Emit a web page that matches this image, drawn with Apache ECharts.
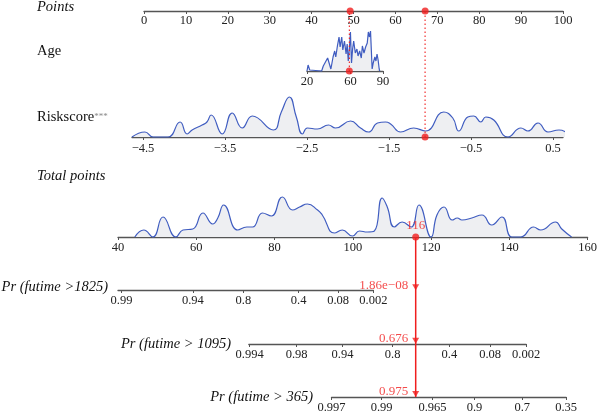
<!DOCTYPE html>
<html>
<head>
<meta charset="utf-8">
<script src="https://cdn.jsdelivr.net/npm/echarts@6/dist/echarts.min.js"></script>
<style>
  html, body { margin: 0; padding: 0; background: #fff; }
  #nomo { width: 600px; height: 419px; }
</style>
</head>
<body>
<div id="nomo"></div>
<script>
// ---- data ----
var ageX = [20,21,22.5,23,33.5,35,37,39,40.5,42,43,44,45.5,46.5,48,49.5,50.5,52,53,54.5,56,57,58,59,60,61,62,63,64.5,66,67,68.5,70,71,72.5,74,75.5,76.5,77.5,78.5,80,81,82.5,83.5,84.5,85.5,86.5,87];
var ageDens = [0,6,1,0,0,5,9,13,12,2,8,14,20,14,25,34,24,34,21,30,17,27,10,22,39,8,22,30,18,22,15,20,13,25,18,24,28,39,34,40,2,8,14,10,17,11,2,0];

var riskX = [-4.634,-4.476,-4.378,-4.194,-4.048,-3.962,-3.901,-3.779,-3.72,-3.669,-3.534,-3.412,-3.290,-3.167,-2.911,-2.813,-2.715,-2.630,-2.556,-2.495,-2.373,-2.238,-2.153,-1.969,-1.847,-1.749,-1.640,-1.542,-1.480,-1.358,-1.199,-1.053,-0.833,-0.722,-0.649,-0.539,-0.466,-0.380,-0.319,-0.222,-0.050,0.109,0.194,0.317,0.439,0.573,0.683,0.781];
var riskDens = [0,5,0,0,15,3,7,12,15,22,3,24,9,21,7,25,40,20,3,9,8,12,9,16,9,5,14,15,13,5,9,6,25,19,6,20,21,15,20,17,0,9,6,14,5,7,4,0];

var totalX = [44.3,46.6,48.9,51.5,54.8,56.6,59.1,61.7,64.2,65.5,67,70.6,72.9,74.4,76.9,79.2,82,84.6,86.4,88.4,91,92.2,95.3,97.3,99.9,101.7,103.7,105.5,107.5,108.8,110.6,112.6,114.9,116.9,120,121.5,123.3,125.4,126.7,127.9,130.4,133,135.5,138.1,140.6,142.9,146.2,148,151.8,153.4,155.9];
var totalDens = [0,7,0,20,0,7,8,24,13,19,32,7,10,10,24,21,40,27,30,33,27,22,4,7,1,6,5,6,39,30,10,15,10,32,0,22,30,17,19,17,19,22,12,20,0,0,10,7,15,8,0];

var ageTicks = [20, 60, 90];
var riskTicks = [-4.5, -3.5, -2.5, -1.5, -0.5, 0.5];

// probability scales: label + where it sits on the total points scale
var p1825Labels = ['0.99','0.94','0.8','0.4','0.08','0.002'];
var p1825At = [40.9, 59.1, 72.0, 86.1, 96.2, 105.2];
var p1095Labels = ['0.994','0.98','0.94','0.8','0.4','0.08','0.002'];
var p1095At = [73.6, 85.6, 97.3, 110.1, 124.6, 135.0, 144.2];
var p365Labels = ['0.997','0.99','0.965','0.9','0.7','0.35'];
var p365At = [94.5, 107.3, 120.3, 131.0, 143.2, 154.4];

// the patient shown in red
var patientAge = 59;
var patientRisk = -1.06;
var patientPoints = [49.2, 67.1];
var patientTotal = 116;
var predRows = ['p1825', 'p1095', 'p365'];
var predLabels = ['1.86e\u221208', '0.676', '0.975'];

// ---- layout ----
var FONT = 'Liberation Serif';
var AXIS_COL = '#555';
var RED = '#f01e1e';
var BLUE = '#3f5cc0';
var FILL = '#eeeff2';
var TOTAL_X0 = 118, TOTAL_PX = 3.917; // total points 40 -> 118px

function totGrid(min, max, lineY) {
	return { left: TOTAL_X0 + (min - 40) * TOTAL_PX, width: (max - min) * TOTAL_PX, top: lineY - 10, height: 10 };
}

function xAx(idx, min, max, margin, extra) {
	var a = {
		type: 'value', gridIndex: idx, min: min, max: max,
		axisLine: { lineStyle: { color: AXIS_COL, width: 1.3 } },
		axisTick: { length: 3, lineStyle: { color: AXIS_COL, width: 1 } },
		axisLabel: { color: '#222', fontFamily: FONT, fontSize: 12.5, margin: margin },
		splitLine: { show: false }
	};
	for (var k in extra) {
		if (typeof extra[k] === 'object' && a[k]) Object.assign(a[k], extra[k]); else a[k] = extra[k];
	}
	return a;
}

function customAxis(idx, min, max, margin, at, fmt) {
	return xAx(idx, min, max, margin, {
		axisTick: { customValues: at },
		axisLabel: { customValues: at, formatter: fmt }
	});
}

function minus(v) { return (v < 0 ? '\u2212' : '') + Math.abs(v); }

function pair(xs, ys) { return xs.map(function (x, i) { return [x, ys[i]]; }); }

var AGE_TOP = 60, RISK_TOP = 126;

var grids = [
	{ left: 144, width: 419, top: 1, height: 10 },          // 0 points
	{ left: 307, width: 76, top: 11, height: 60 },          // 1 age
	{ left: 132, width: 431, top: 11, height: 126 },        // 2 riskscore
	{ left: TOTAL_X0, width: 120 * TOTAL_PX, top: 195, height: 42 }, // 3 total
	totGrid(40, 105.2, 290),                                // 4 pr 1825
	totGrid(73.4, 144.2, 344),                              // 5 pr 1095
	totGrid(94.5, 154.4, 397),                              // 6 pr 365
	{ left: TOTAL_X0, width: 120 * TOTAL_PX, top: 237, height: 160 } // 7 overlay
];

var xAxes = [
	xAx(0, 0, 100, 3, { interval: 10 }),
	customAxis(1, 20, 90, 4, ageTicks, function (v) { return String(v); }),
	customAxis(2, -4.634, 0.622, 5, riskTicks, minus),
	xAx(3, 40, 160, 4, { interval: 20 }),
	customAxis(4, 40, 105.2, 4, p1825At, function (v) { return p1825Labels[p1825At.indexOf(v)] || ''; }),
	customAxis(5, 73.4, 144.2, 4, p1095At, function (v) { return p1095Labels[p1095At.indexOf(v)] || ''; }),
	customAxis(6, 94.5, 154.4, 4, p365At, function (v) { return p365Labels[p365At.indexOf(v)] || ''; }),
	{ type: 'value', gridIndex: 7, min: 40, max: 160, show: false }
];

var yAxes = [
	{ type: 'value', gridIndex: 0, min: 0, max: 1, show: false },
	{ type: 'value', gridIndex: 1, min: 0, max: AGE_TOP, show: false },
	{ type: 'value', gridIndex: 2, min: 0, max: RISK_TOP, show: false },
	{ type: 'value', gridIndex: 3, min: 0, max: 42, show: false },
	{ type: 'value', gridIndex: 4, min: 0, max: 1, show: false },
	{ type: 'value', gridIndex: 5, min: 0, max: 1, show: false },
	{ type: 'value', gridIndex: 6, min: 0, max: 1, show: false },
	{ type: 'category', gridIndex: 7, data: ['total', 'p1825', 'p1095', 'p365'], inverse: true, boundaryGap: false, show: false }
];

function density(idx, xs, ys, smooth) {
	return {
		type: 'line', xAxisIndex: idx, yAxisIndex: idx, data: pair(xs, ys),
		smooth: smooth, symbol: 'none', clip: false, silent: true,
		lineStyle: { color: BLUE, width: 1.2 },
		areaStyle: { color: FILL, opacity: 1, origin: 'start' }, z: 1
	};
}

function guide(idx, x, top) {
	return {
		type: 'line', xAxisIndex: idx, yAxisIndex: idx, data: [[x, 0], [x, top]],
		symbol: 'none', silent: true, clip: false, z: 8,
		lineStyle: { color: RED, width: 1.1, type: [1.5, 2.5] }
	};
}

function dot(idx, data) {
	return {
		type: 'scatter', xAxisIndex: idx, yAxisIndex: idx, data: data,
		symbolSize: 7, itemStyle: { color: RED }, z: 9, silent: true
	};
}

var series = [
	density(1, ageX, ageDens, false),
	density(2, riskX, riskDens, 0.5),
	density(3, totalX, totalDens, 0.5),
	guide(1, patientAge, AGE_TOP),
	guide(2, patientRisk, RISK_TOP),
	dot(0, patientPoints.map(function (p) { return [p, 0]; })),
	dot(1, [[patientAge, 0]]),
	dot(2, [[patientRisk, 0]]),
	{
		type: 'line', xAxisIndex: 7, yAxisIndex: 7,
		data: [[patientTotal, 'total'], [patientTotal, 'p365']],
		symbol: 'none', silent: true, z: 4,
		lineStyle: { color: RED, width: 1.5 }
	},
	{
		type: 'scatter', xAxisIndex: 7, yAxisIndex: 7,
		data: [[patientTotal, 'total']], symbolSize: 7, z: 9, silent: true,
		itemStyle: { color: RED },
		label: { show: true, position: 'top', distance: 1, color: RED, fontFamily: FONT, fontSize: 13,
			formatter: function () { return String(patientTotal); } }
	},
	{
		type: 'scatter', xAxisIndex: 7, yAxisIndex: 7,
		data: predRows.map(function (r) { return [patientTotal, r]; }),
		symbol: 'triangle', symbolRotate: 180, symbolSize: [7, 6], symbolOffset: [0, -3],
		z: 9, silent: true, itemStyle: { color: RED },
		label: { show: true, position: 'left', distance: 4, offset: [0, -2], color: RED, fontFamily: FONT, fontSize: 13,
			formatter: function (p) { return predLabels[p.dataIndex]; } }
	}
];

function txt(s, x, y, opt) {
	return {
		type: 'text', x: x, y: y, silent: true,
		style: Object.assign({ text: s, fill: '#111', font: '14.5px "' + FONT + '"', align: 'left', verticalAlign: 'middle' }, opt || {})
	};
}

var graphics = [
	txt('Points', 37, 7, { font: 'italic 14.5px "' + FONT + '"' }),
	txt('Age', 37, 51),
	{
		type: 'text', x: 37, y: 117, silent: true,
		style: {
			text: '{a|Riskscore}{b|***}', verticalAlign: 'middle',
			rich: {
				a: { fontFamily: FONT, fontSize: 14.5, fill: '#111' },
				b: { fontFamily: FONT, fontSize: 9, fill: '#888' }
			}
		}
	},
	txt('Total points', 37, 176, { font: 'italic 14.5px "' + FONT + '"' }),
	txt('Pr (futime >1825)', 108, 287, { font: 'italic 14.5px "' + FONT + '"', align: 'right' }),
	txt('Pr (futime > 1095)', 231, 344, { font: 'italic 14.5px "' + FONT + '"', align: 'right' }),
	txt('Pr (futime > 365)', 313, 397, { font: 'italic 14.5px "' + FONT + '"', align: 'right' })
];

var chart = echarts.init(document.getElementById('nomo'), null, { width: 600, height: 419 });
chart.setOption({
	backgroundColor: '#fff',
	animation: false,
	grid: grids,
	xAxis: xAxes,
	yAxis: yAxes,
	series: series,
	graphic: graphics
});
</script>
</body>
</html>
